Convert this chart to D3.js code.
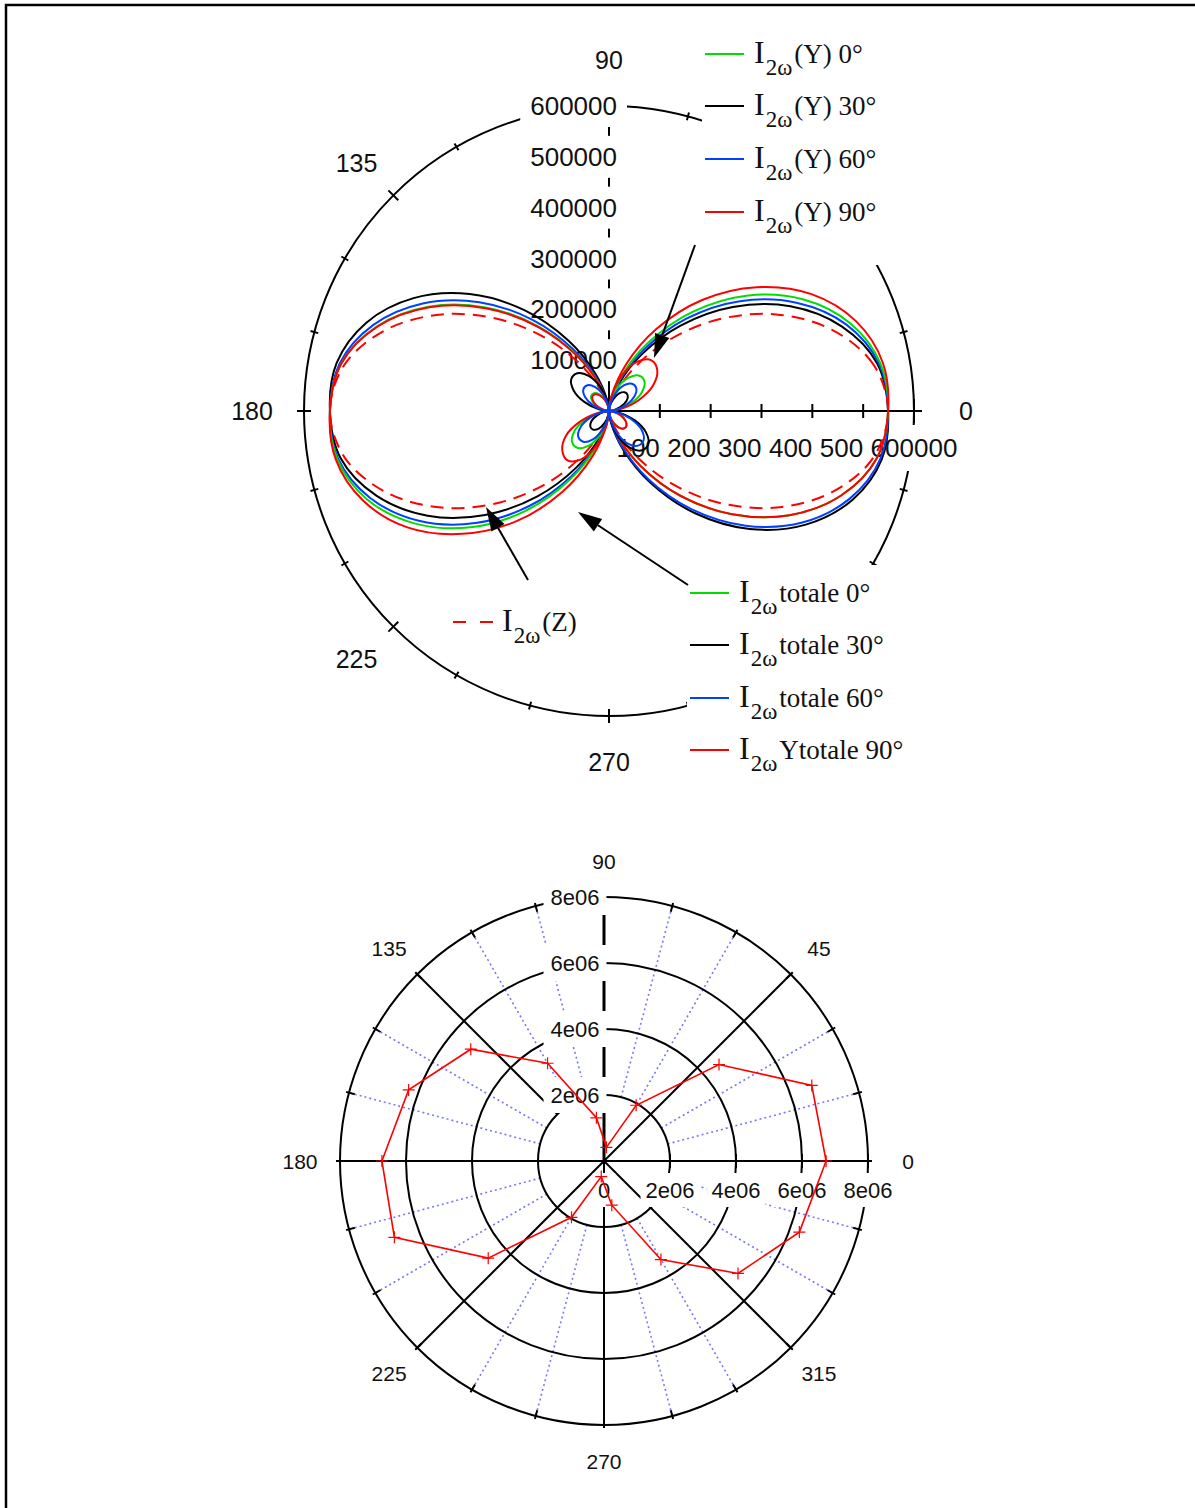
<!DOCTYPE html>
<html><head><meta charset="utf-8">
<script src="https://cdn.jsdelivr.net/npm/d3@7"></script>
<style>body{margin:0;background:#fff}svg{display:block}</style>
</head><body>
<svg id="c" width="1195" height="1508"></svg>
<script>
// ---------------- DATA (top chart) ----------------
const anglesTop = [0,10,20,30,40,50,60,70,80,90,100,110,120,130,140,150,160,170,180,190,200,210,220,230,240,250,260,270,280,290,300,310,320,330,340,350];
const radialTicksTop = [100000,200000,300000,400000,500000,600000];
const radialTickLabelsTop = ["100000","200000","300000","400000","500000","600000"];
// labels on the 0° axis are overlapped in the original: only these parts are visible
const radialTickLabelsTopVisible = ["100","200","300","400","500","600000"];
const angleTicksTop = [0,90,135,180,225,270];
const angleLabelsTop = ["0","90","135","180","225","270"];

const yGreen0  = [0,18e3,48e3,75e3,91e3,91e3,75e3,48e3,18e3, 0,9e3,24e3,38e3,46e3,46e3,38e3,24e3,9e3, 0,19e3,50e3,78e3,95e3,95e3,78e3,50e3,19e3, 0,9e3,24e3,37e3,45e3,45e3,37e3,24e3,9e3];
const yBlack30 = [0,10e3,25e3,40e3,48e3,48e3,40e3,25e3,10e3, 0,20e3,51e3,80e3,97e3,97e3,80e3,51e3,20e3, 0,10e3,25e3,40e3,48e3,48e3,40e3,25e3,10e3, 0,21e3,54e3,84e3,101e3,101e3,84e3,54e3,21e3];
const yBlue60  = [0,14e3,37e3,58e3,70e3,70e3,58e3,37e3,14e3, 0,13e3,34e3,54e3,66e3,66e3,54e3,34e3,13e3, 0,16e3,41e3,65e3,79e3,79e3,65e3,41e3,16e3, 0,18e3,46e3,74e3,89e3,89e3,74e3,46e3,18e3];
const yRed90   = [0,24e3,62e3,100e3,124e3,130e3,112e3,75e3,30e3, 0,9e3,22e3,35e3,43e3,43e3,35e3,22e3,9e3, 0,22e3,60e3,98e3,120e3,127e3,110e3,72e3,28e3, 0,9e3,24e3,37e3,45e3,45e3,37e3,24e3,9e3];

const totGreen0  = [549e3,542e3,505e3,440e3,353e3,254e3,156e3,75e3,21e3, 0,14e3,56e3,126e3,218e3,317e3,410e3,486e3,535e3, 549e3,543e3,507e3,442e3,356e3,257e3,158e3,77e3,22e3, 0,14e3,56e3,126e3,217e3,316e3,410e3,486e3,535e3];
const totBlack30 = [549e3,536e3,487e3,412e3,318e3,219e3,128e3,57e3,15e3, 0,23e3,78e3,160e3,259e3,358e3,444e3,508e3,544e3, 549e3,536e3,487e3,412e3,318e3,219e3,128e3,57e3,15e3, 0,24e3,80e3,163e3,262e3,361e3,447e3,510e3,545e3];
const totBlue60  = [549e3,539e3,497e3,426e3,336e3,237e3,142e3,67e3,18e3, 0,17e3,64e3,139e3,234e3,333e3,423e3,494e3,538e3, 549e3,541e3,500e3,432e3,343e3,244e3,148e3,70e3,20e3, 0,21e3,74e3,155e3,252e3,351e3,439e3,504e3,542e3];
const totRed90   = [549e3,547e3,517e3,460e3,379e3,285e3,186e3,97e3,31e3, 0,14e3,55e3,124e3,215e3,314e3,408e3,485e3,535e3, 549e3,546e3,515e3,458e3,376e3,283e3,184e3,95e3,29e3, 0,14e3,56e3,126e3,217e3,316e3,410e3,486e3,535e3];
const zDashed    = [549e3,528e3,467e3,380e3,280e3,181e3,96e3,37e3,7e3, 0,7e3,37e3,96e3,181e3,280e3,380e3,467e3,528e3, 549e3,528e3,467e3,380e3,280e3,181e3,96e3,37e3,7e3, 0,7e3,37e3,96e3,181e3,280e3,380e3,467e3,528e3];

const legendYLabels = ["(Y) 0°","(Y) 30°","(Y) 60°","(Y) 90°"];
const legendTotLabels = ["totale 0°","totale 30°","totale 60°","Ytotale 90°"];
const legendZLabel = "(Z)";

// ---------------- DATA (bottom chart) ----------------
const anglesBottom = [0,20,40,60,80,100,120,140,160,180,200,220,240,260,280,300,320,340];
const intensityBottom = [6.73e6,6.70e6,4.55e6,1.95e6,0.42e6,1.33e6,3.42e6,5.27e6,6.30e6,6.73e6,6.76e6,4.58e6,1.97e6,0.48e6,1.36e6,3.45e6,5.30e6,6.30e6];
const ringTicksBottom = [2e6,4e6,6e6,8e6];
const ringLabelsBottom = ["2e06","4e06","6e06","8e06"];
const angleTicksBottom = [0,45,90,135,180,225,270,315];
const angleLabelsBottom = ["0","45","90","135","180","225","270","315"];

// ---------------- STYLE ----------------
const SANS = "'Liberation Sans', Arial, sans-serif";
const SERIF = "'Liberation Serif', 'Times New Roman', serif";
const GREEN = "#00dd00", BLACK = "#000000", BLUE = "#0040ff", RED = "#ff0000";

const svg = d3.select("#c");
svg.append("rect").attr("width",1195).attr("height",1508).attr("fill","#fff");
svg.append("path").attr("d","M6,1510 V5 H1197").attr("fill","none").attr("stroke","#000").attr("stroke-width",2.5);

const rad = d => d*Math.PI/180;
const P = (r,deg) => [r*Math.cos(rad(deg)), -r*Math.sin(rad(deg))];
const PE = (rx,ry,deg) => [rx*Math.cos(rad(deg)), -ry*Math.sin(rad(deg))];

function bgLabel(g, x, y, txt, size, anchor, padX, halfH){
  const gg = g.append("g");
  const rect = gg.append("rect").attr("fill","#fff");
  const t = gg.append("text").attr("x",x).attr("y",y).attr("text-anchor",anchor)
    .attr("dominant-baseline","central").attr("font-size",size).attr("font-family",SANS)
    .attr("fill","#111").text(txt);
  const b = t.node().getBBox();
  rect.attr("x",b.x-padX).attr("y",y-halfH).attr("width",b.width+2*padX).attr("height",2*halfH);
  return t;
}
function textWidth(txt, size){
  const t = svg.append("text").attr("font-size",size).attr("font-family",SANS).text(txt);
  const w = t.node().getComputedTextLength(); t.remove(); return w;
}

// ================= TOP CHART =================
const gT = svg.append("g").attr("transform","translate(609,411)");
const rT = d3.scaleLinear().domain([0,600000]).range([0,305]);
const Rt = rT(600000);

gT.append("circle").attr("r",Rt).attr("fill","none").attr("stroke","#000").attr("stroke-width",2);
d3.range(0,360,15).forEach(a=>{
  const len = a%45===0 ? 7 : 4;
  const p1 = P(Rt-len,a), p2 = P(Rt+len,a);
  gT.append("line").attr("x1",p1[0]).attr("y1",p1[1]).attr("x2",p2[0]).attr("y2",p2[1])
    .attr("stroke","#000").attr("stroke-width",2);
});
gT.append("line").attr("x1",0).attr("y1",0).attr("x2",Rt+8).attr("y2",0).attr("stroke","#000").attr("stroke-width",2);
radialTicksTop.forEach((v,i)=>{
  const h = i===radialTicksTop.length-1 ? 12 : 7;
  gT.append("line").attr("x1",rT(v)).attr("x2",rT(v)).attr("y1",-h).attr("y2",h).attr("stroke","#000").attr("stroke-width",2);
});
gT.append("line").attr("x1",0).attr("y1",0).attr("x2",0).attr("y2",-Rt).attr("stroke","#000").attr("stroke-width",2);

angleTicksTop.forEach((a,i)=>{
  const p = PE(357,351,a);
  gT.append("text").attr("x",p[0]).attr("y",p[1]).attr("text-anchor","middle").attr("dominant-baseline","central")
    .attr("font-size",25).attr("font-family",SANS).attr("fill","#111").text(angleLabelsTop[i]);
});
radialTicksTop.forEach((v,i)=>{
  bgLabel(gT, 8, -rT(v), radialTickLabelsTop[i], 26, "end", 10, 21);
});
radialTicksTop.forEach((v,i)=>{
  const full = textWidth(radialTickLabelsTop[i], 26);
  bgLabel(gT, rT(v)-full/2, 37, radialTickLabelsTopVisible[i], 26, "start", 3, 23);
});

const lineT = d3.lineRadial()
  .angle(d=>Math.PI/2 - rad(d.a))
  .radius(d=>rT(d.v))
  .curve(d3.curveCatmullRomClosed.alpha(0.5));
const seriesTop = [
  {name:"I2ω totale 30°", values: totBlack30, color: BLACK, dash:null},
  {name:"I2ω totale 60°", values: totBlue60, color: BLUE, dash:null},
  {name:"I2ω totale 0°",  values: totGreen0, color: GREEN, dash:null},
  {name:"I2ω Ytotale 90°",values: totRed90, color: RED, dash:null},
  {name:"I2ω(Z)",         values: zDashed, color: RED, dash:"13,8"},
  {name:"I2ω(Y) 30°",     values: yBlack30, color: BLACK, dash:null},
  {name:"I2ω(Y) 0°",      values: yGreen0, color: GREEN, dash:null},
  {name:"I2ω(Y) 90°",     values: yRed90, color: RED, dash:null},
  {name:"I2ω(Y) 60°",     values: yBlue60, color: BLUE, dash:null}
];
seriesTop.forEach(s=>{
  const pts = anglesTop.map((a,i)=>({a, v:s.values[i]}));
  gT.append("path").attr("d",lineT(pts)).attr("fill","none").attr("stroke",s.color)
    .attr("stroke-width",2).attr("stroke-dasharray",s.dash);
});

function legendText(x, y, sub, rest){
  const t = svg.append("text").attr("x",x).attr("y",y).attr("font-family",SERIF).attr("fill","#111");
  t.append("tspan").attr("font-size",32).text("I");
  t.append("tspan").attr("font-size",23).attr("dy",12).attr("dx",1).text(sub);
  t.append("tspan").attr("font-size",27).attr("dy",-12).attr("dx",2).text(rest);
}
svg.append("rect").attr("x",702).attr("y",20).attr("width",200).attr("height",245).attr("fill","#fff");
const legColors = [GREEN, BLACK, BLUE, RED];
const leg1Y = [54,106,159,212];
legendYLabels.forEach((lab,i)=>{
  svg.append("line").attr("x1",705).attr("x2",744).attr("y1",leg1Y[i]).attr("y2",leg1Y[i]).attr("stroke",legColors[i]).attr("stroke-width",2);
  legendText(754, leg1Y[i]+9, "2ω", lab);
});
svg.append("rect").attr("x",687).attr("y",565).attr("width",225).attr("height",220).attr("fill","#fff");
const leg2Y = [593,645,698,750];
legendTotLabels.forEach((lab,i)=>{
  svg.append("line").attr("x1",690).attr("x2",729).attr("y1",leg2Y[i]).attr("y2",leg2Y[i]).attr("stroke",legColors[i]).attr("stroke-width",2);
  legendText(739, leg2Y[i]+9, "2ω", lab);
});
svg.append("line").attr("x1",453).attr("x2",493).attr("y1",622).attr("y2",622).attr("stroke",RED).attr("stroke-width",2).attr("stroke-dasharray","13,14");
legendText(502, 631, "2ω", legendZLabel);

function arrow(x1,y1,x2,y2){
  const ang = Math.atan2(y2-y1,x2-x1), L=24, W=7.5;
  const bx = x2-L*Math.cos(ang), by = y2-L*Math.sin(ang);
  svg.append("line").attr("x1",x1).attr("y1",y1).attr("x2",bx).attr("y2",by).attr("stroke","#000").attr("stroke-width",2);
  svg.append("path").attr("d",`M${x2},${y2}L${bx+W*Math.sin(ang)},${by-W*Math.cos(ang)}L${bx-W*Math.sin(ang)},${by+W*Math.cos(ang)}Z`).attr("fill","#000");
}
arrow(695,245,654,358);
arrow(688,585,578,512);
arrow(528,580,486,507);

// ================= BOTTOM CHART =================
const gB = svg.append("g").attr("transform","translate(604,1161)");
const rB = d3.scaleLinear().domain([0,8e6]).range([0,264]);
const Rb = rB(8e6);

d3.range(0,360,15).filter(a=>a%45!==0).forEach(a=>{
  const p1 = P(rB(2e6),a), p2 = P(Rb,a);
  gB.append("line").attr("x1",p1[0]).attr("y1",p1[1]).attr("x2",p2[0]).attr("y2",p2[1])
    .attr("stroke","#7878ff").attr("stroke-width",1.6).attr("stroke-dasharray","2,3");
});
ringTicksBottom.forEach(v=>{
  gB.append("circle").attr("r",rB(v)).attr("fill","none").attr("stroke","#000").attr("stroke-width",2);
});
[45,225,315].forEach(a=>{
  const p = P(Rb,a);
  gB.append("line").attr("x1",0).attr("y1",0).attr("x2",p[0]).attr("y2",p[1]).attr("stroke","#000").attr("stroke-width",2);
});
{
  const p1 = P(rB(2e6),135), p2 = P(Rb,135);
  gB.append("line").attr("x1",p1[0]).attr("y1",p1[1]).attr("x2",p2[0]).attr("y2",p2[1]).attr("stroke","#000").attr("stroke-width",2);
}
gB.append("line").attr("x1",-Rb-4).attr("x2",Rb+4).attr("y1",0).attr("y2",0).attr("stroke","#000").attr("stroke-width",2);
gB.append("line").attr("x1",0).attr("x2",0).attr("y1",0).attr("y2",Rb+2).attr("stroke","#000").attr("stroke-width",2);
gB.append("line").attr("x1",0).attr("x2",0).attr("y1",0).attr("y2",-Rb).attr("stroke","#000").attr("stroke-width",3);
d3.range(0,360,15).forEach(a=>{
  const p1 = P(Rb-6,a), p2 = P(Rb+3,a);
  gB.append("line").attr("x1",p1[0]).attr("y1",p1[1]).attr("x2",p2[0]).attr("y2",p2[1]).attr("stroke","#000").attr("stroke-width",2);
});
ringTicksBottom.forEach(v=>{
  gB.append("line").attr("x1",rB(v)).attr("x2",rB(v)).attr("y1",-7).attr("y2",7).attr("stroke","#000").attr("stroke-width",2);
});
angleTicksBottom.forEach((a,i)=>{
  const p = PE(304,300,a);
  gB.append("text").attr("x",p[0]).attr("y",p[1]).attr("text-anchor","middle").attr("dominant-baseline","central")
    .attr("font-size",21).attr("font-family",SANS).attr("fill","#111").text(angleLabelsBottom[i]);
});
ringTicksBottom.forEach((v,i)=>{
  bgLabel(gB, -29, -rB(v), ringLabelsBottom[i], 22, "middle", 7, 18);
});
bgLabel(gB, 0, 29, "0", 22, "middle", 5, 17);
ringTicksBottom.forEach((v,i)=>{
  bgLabel(gB, rB(v), 29, ringLabelsBottom[i], 22, "middle", 5, 17);
});
const ptsB = anglesBottom.map((a,i)=>({a, v:intensityBottom[i]}));
const lineB = d3.lineRadial().angle(d=>Math.PI/2 - rad(d.a)).radius(d=>rB(d.v)).curve(d3.curveLinearClosed);
gB.append("path").attr("d",lineB(ptsB)).attr("fill","none").attr("stroke",RED).attr("stroke-width",1.6);
ptsB.forEach(d=>{
  const p = P(rB(d.v),d.a);
  gB.append("path").attr("d",`M${p[0]-6},${p[1]}H${p[0]+6}M${p[0]},${p[1]-6}V${p[1]+6}`).attr("stroke",RED).attr("stroke-width",1.2);
});
</script>
</body></html>
